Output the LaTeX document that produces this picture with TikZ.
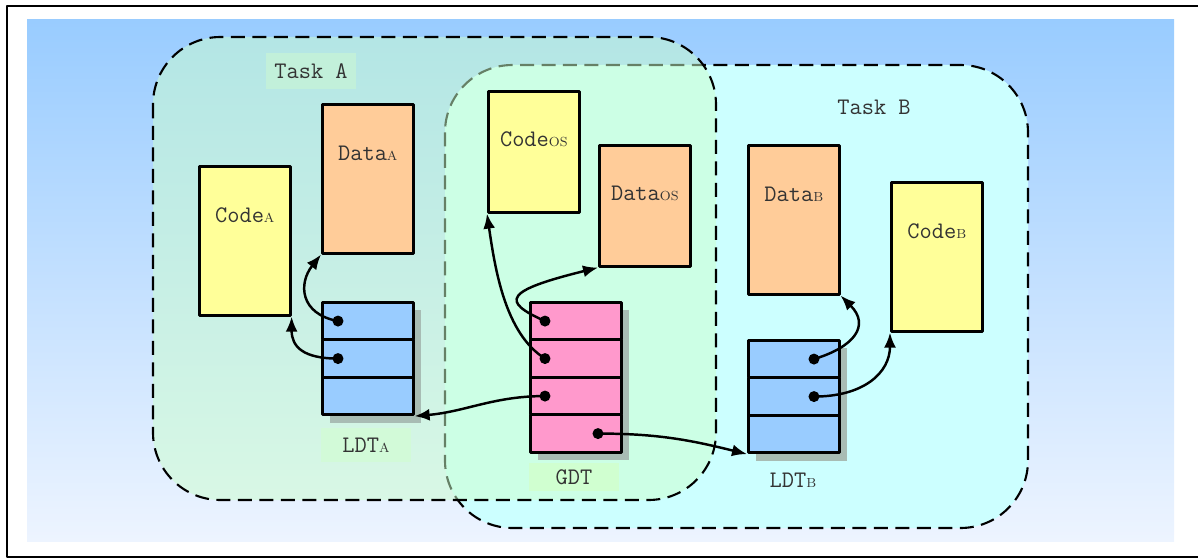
\documentclass[tikz,border=0pt]{standalone}
\usetikzlibrary{arrows.meta,shadows}
\definecolor{bgtop}{RGB}{153,204,255}
\definecolor{bgbot}{RGB}{237,244,255}
\definecolor{tac}{HTML}{CCFFCC}
\definecolor{tbc}{HTML}{CCFFFF}
\definecolor{codec}{HTML}{FFFF99}
\definecolor{datac}{HTML}{FFCC99}
\definecolor{ldtc}{HTML}{99CCFF}
\definecolor{gdtc}{HTML}{FF99CC}
\definecolor{shd}{RGB}{168,188,180}
\definecolor{tagA}{RGB}{194,240,218}
\definecolor{tagL}{RGB}{210,250,216}
\definecolor{tagG}{RGB}{208,255,208}
\newcommand\subsc[1]{{\fontsize{7.5pt}{8pt}\selectfont\rmfamily #1}}
\begin{document}
\begin{tikzpicture}[x=0.02cm,y=0.02cm,line join=round,>={Latex[length=3mm,width=2.4mm]},
	txt/.style={font=\fontsize{13.5pt}{16pt}\selectfont\ttfamily,text=black!80},
	seg/.style={draw,line width=1.5pt,anchor=north west,minimum width=1.82cm,inner sep=0pt},
	blk/.style={seg,minimum height=2.98cm},
	row/.style={seg,minimum height=0.75cm,drop shadow={shadow xshift=0.16cm,shadow yshift=-0.16cm,fill=shd,opacity=1}},
	task/.style={dash pattern=on 2.8mm off 1.5mm,line width=1.2pt,rounded corners=1.35cm},
	tag/.style={txt,minimum width=1.8cm,minimum height=0.72cm,inner sep=0pt},
	ptr/.style={->,line width=1.4pt},
	pin/.style={circle,fill,inner sep=0pt,minimum size=0.22cm}]
	\useasboundingbox(0,0)rectangle(1198,559);
	% frame and background
	\draw[line width=1.4pt](7,553)rectangle(1210,2);
	\shade[top color=bgtop,bottom color=bgbot](27,539)rectangle(1174,18);
	% the two tasks
	\draw[task,fill=tbc](445,494)rectangle(1028,31);
	\draw[task,fill=tac,fill opacity=.5](153,522)rectangle(716,59);
	\node[tag,fill=tagA](taskA)at(311,488){Task A};
	\node[txt](taskB)at(874,452){Task B};
	% segments
	\node[blk,fill=codec,label={[txt,anchor=center,yshift=-1cm]north:Code\subsc{A}}](codeA)at(198,394){};
	\node[blk,fill=datac,label={[txt,anchor=center,yshift=-1cm]north:Data\subsc{A}}](dataA)at(321,456){};
	\node[seg,minimum height=2.42cm,fill=codec,label={[txt,anchor=center,yshift=-0.98cm]north:Code\subsc{OS}}](codeOS)at(487,469){};
	\node[seg,minimum height=2.42cm,fill=datac,label={[txt,anchor=center,yshift=-0.98cm]north:Data\subsc{OS}}](dataOS)at(598,415){};
	\node[blk,fill=datac,label={[txt,anchor=center,yshift=-1cm]north:Data\subsc{B}}](dataB)at(747,415){};
	\node[blk,fill=codec,label={[txt,anchor=center,yshift=-1cm]north:Code\subsc{B}}](codeB)at(890,378){};
	% descriptor tables
	\foreach \i in {1,2,3} \node[row,fill=ldtc](la\i)at(321,{258-37.5*(\i-1)}){};
	\foreach \i in {1,...,4} \node[row,fill=gdtc](g\i)at(529,{258-37.5*(\i-1)}){};
	\foreach \i in {1,2,3} \node[row,fill=ldtc](lb\i)at(747,{220-37.5*(\i-1)}){};
	\node[tag,fill=tagL,minimum height=0.7cm](ldtA)at(366,114){LDT\subsc{A}};
	\node[tag,fill=tagG,minimum height=0.58cm](gdt)at(574,82){GDT};
	\node[txt](ldtB)at(793,79){LDT\subsc{B}};
	% pointers
	\node[pin](pa1)at([xshift=.34cm]la1.west){};
	\node[pin](pa2)at([xshift=.34cm]la2.west){};
	\node[pin](pg1)at([xshift=.32cm]g1.west){};
	\node[pin](pg2)at([xshift=.32cm]g2.west){};
	\node[pin](pg3)at([xshift=.32cm]g3.west){};
	\node[pin](pg4)at([xshift=1.38cm]g4.west){};
	\node[pin](pb1)at([xshift=1.34cm]lb1.west){};
	\node[pin](pb2)at([xshift=1.34cm]lb2.west){};
	\draw[ptr](pa1.center)..controls+(-38,7)and+(-23,-29)..(dataA.south west);
	\draw[ptr](pa2.center)..controls+(-35,0)and+(0,-30)..(codeA.south east);
	\draw[ptr](pg1.center)..controls+(-45,20)and+(-93,-23)..(dataOS.south west);
	\draw[ptr](pg2.center)..controls+(-40,25)and+(8,-55)..(codeOS.south west);
	\draw[ptr](pg3.center)to[out=180,in=5](la3.south east);
	\draw[ptr](pg4.center)to[out=0,in=166](lb3.south west);
	\draw[ptr](pb1.center)..controls+(40,12)and+(30,-30)..(dataB.south east);
	\draw[ptr](pb2.center)..controls+(50,0)and+(0,-40)..(codeB.south west);
\end{tikzpicture}
\end{document}
